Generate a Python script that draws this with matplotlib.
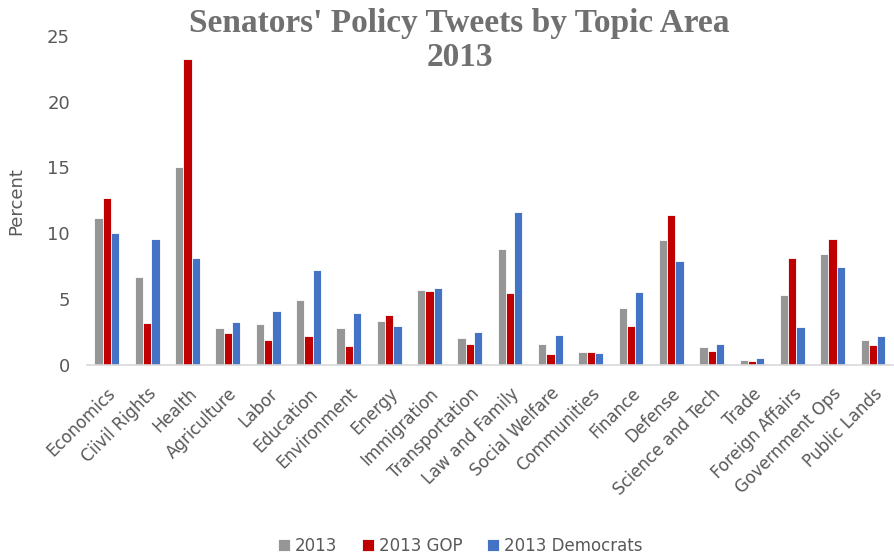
import numpy as np
import matplotlib
matplotlib.use("Agg")
import matplotlib.pyplot as plt

topics = ["Economics", "Ciivil Rights", "Health", "Agriculture", "Labor",
          "Education", "Environment", "Energy", "Immigration",
          "Transportation", "Law and Family", "Social Welfare",
          "Communities", "Finance", "Defense", "Science and Tech", "Trade",
          "Foreign Affairs", "Government Ops", "Public Lands"]

all_2013 = [11.2, 6.7, 15.0, 2.83, 3.1, 4.9, 2.8, 3.34, 5.7,
            2.05, 8.8, 1.62, 0.99, 4.33, 9.5, 1.34, 0.4, 5.3, 8.4, 1.88]
gop_2013 = [12.7, 3.2, 23.2, 2.4, 1.9, 2.2, 1.44, 3.77, 5.62,
            1.57, 5.47, 0.86, 1.01, 2.94, 11.4, 1.1, 0.3, 8.13, 9.57, 1.52]
dem_2013 = [10.0, 9.6, 8.1, 3.24, 4.07, 7.2, 3.97, 2.96, 5.83,
            2.48, 11.6, 2.28, 0.89, 5.52, 7.9, 1.6, 0.5, 2.91, 7.45, 2.23]

series = [("2013", all_2013, "#969696"),
          ("2013 GOP", gop_2013, "#C00000"),
          ("2013 Democrats", dem_2013, "#4472C4")]

text_gray = "#595959"

fig = plt.figure(figsize=(8.94, 5.59), dpi=100)
ax = fig.add_axes([0.097, 0.347, 0.902, 0.589])

x = np.arange(len(topics))
width = 0.205
for i, (name, vals, color) in enumerate(series):
    ax.bar(x + (i - 1) * width, vals, width, color=color, label=name,
           edgecolor="white", linewidth=0.6)

ax.set_xlim(-0.5, len(topics) - 0.5)
ax.set_ylim(0, 25)
ax.set_yticks([0, 5, 10, 15, 20, 25])
ax.set_xticks(x)
ax.set_xticklabels(topics, rotation=45, ha="right", rotation_mode="anchor",
                   fontsize=12, color=text_gray)
ax.tick_params(axis="y", length=0, labelsize=13, labelcolor=text_gray, pad=12)
ax.tick_params(axis="x", length=0, pad=14)

for side in ["top", "right", "left"]:
    ax.spines[side].set_visible(False)
ax.spines["bottom"].set_color("#D9D9D9")
ax.spines["bottom"].set_linewidth(1.2)

fig.text(16 / 894, 0.64, "Percent", rotation=90, ha="center", va="center",
         fontsize=13, color=text_gray)

fig.text(0.514, 0.985, "Senators' Policy Tweets by Topic Area\n2013",
         ha="center", va="top", fontsize=24, fontweight="bold",
         family="Liberation Serif", color="#707070", linespacing=1.1)

fig.legend(loc="center", bbox_to_anchor=(0.515, 0.024), ncol=3,
           frameon=False, fontsize=12, labelcolor=text_gray,
           handlelength=0.7, handleheight=0.7, handletextpad=0.3,
           columnspacing=1.5)

fig.savefig("out.png", dpi=100)
